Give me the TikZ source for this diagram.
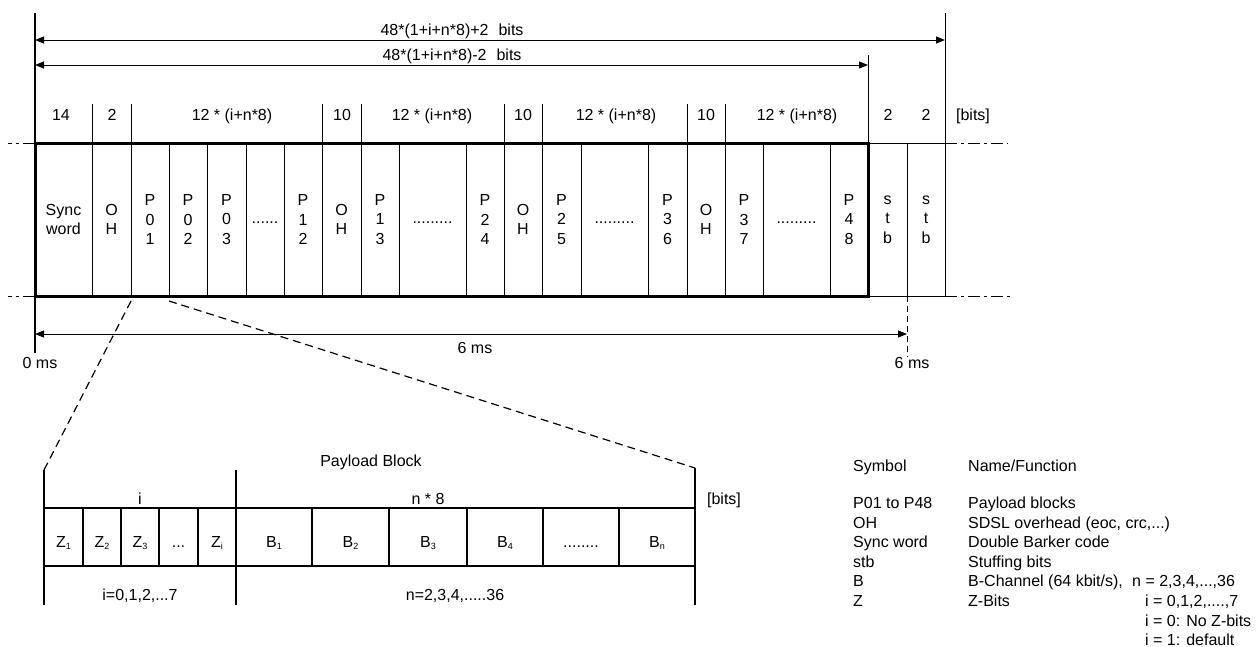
\documentclass[tikz,border=0pt]{standalone}
\usepackage{fontspec}
\setmainfont{Liberation Sans}
\usetikzlibrary{arrows.meta}

\newcommand{\lowidx}[1]{\raisebox{-2pt}{\fontsize{9}{10}\selectfont #1}}

\tikzset{
  cell/.style={draw, line width=1pt, minimum height=153pt, inner sep=0pt, outer sep=0pt, align=center},
  bcell/.style={draw, line width=2pt, minimum height=58pt, inner sep=0pt, outer sep=0pt, text height=20pt, text depth=0pt},
  dimarrow/.style={line width=1pt, {Triangle[length=9pt,width=7pt]}-{Triangle[length=9pt,width=7pt]}},
  axisline/.style={line width=1pt, dash pattern=on 12pt off 4pt on 3pt off 4pt},
  zoomline/.style={line width=1.2pt, dash pattern=on 8pt off 5pt},
  lbl/.style={anchor=base, inner sep=0pt},
  leg/.style={anchor=base west, inner sep=0pt},
}

\begin{document}
\begin{tikzpicture}[x=1pt, y=-1pt, font=\fontsize{16}{19.5}\selectfont]
  \useasboundingbox (0,0) rectangle (1257,646);

  % Frame cells
  \node[cell, minimum width=57pt] (sync) at (63.5,219.5) {Sync\\word};
  \node[cell, minimum width=39pt] (oh1) at (111.5,219.5) {O\\H};
  \node[cell, minimum width=38pt] (p01) at (150,219.5) {P\\0\\1};
  \node[cell, minimum width=38pt] (p02) at (188,219.5) {P\\0\\2};
  \node[cell, minimum width=39pt] (p03) at (226.5,219.5) {P\\0\\3};
  \node[cell, minimum width=38pt] (d1) at (265,219.5) {\strut......};
  \node[cell, minimum width=38pt] (p12) at (303,219.5) {P\\1\\2};
  \node[cell, minimum width=39pt] (oh2) at (341.5,219.5) {O\\H};
  \node[cell, minimum width=38pt] (p13) at (380,219.5) {P\\1\\3};
  \node[cell, minimum width=67pt] (d2) at (432.5,219.5) {\strut.........};
  \node[cell, minimum width=38pt] (p24) at (485,219.5) {P\\2\\4};
  \node[cell, minimum width=38pt] (oh3) at (523,219.5) {O\\H};
  \node[cell, minimum width=39pt] (p25) at (561.5,219.5) {P\\2\\5};
  \node[cell, minimum width=67pt] (d3) at (614.5,219.5) {\strut.........};
  \node[cell, minimum width=39pt] (p36) at (667.5,219.5) {P\\3\\6};
  \node[cell, minimum width=38pt] (oh4) at (706,219.5) {O\\H};
  \node[cell, minimum width=38pt] (p37) at (744,219.5) {P\\3\\7};
  \node[cell, minimum width=67pt] (d4) at (796.5,219.5) {\strut.........};
  \node[cell, minimum width=38pt] (p48) at (849,219.5) {P\\4\\8};
  \node[cell, minimum width=39pt] (stb1) at (887.5,219.5) {s\\t\\b};
  \node[cell, minimum width=38pt] (stb2) at (926,219.5) {s\\t\\b};

  % Thick frame
  \draw[line width=3pt] (sync.north west) rectangle (p48.south east);

  % Axis extensions
  \draw[axisline] (sync.north west) -- ++(-27,0);
  \draw[axisline] (sync.south west) -- ++(-27,0);
  \draw[axisline] (stb2.north east) -- ++(63,0);
  \draw[axisline] (stb2.south east) -- ++(68,0);

  % Limit lines
  \coordinate (top0) at (35,13);
  \coordinate (top1) at (945,13);
  \coordinate (top2) at (868,55);
  \coordinate (bot0) at (35,353);
  \coordinate (bot1) at (907,357);
  \draw[line width=1.8pt] (top0) -- (bot0);
  \draw[line width=1pt] (top1) -- (stb2.south east);
  \draw[line width=1pt] (top2) -- (p48.north east);
  \draw[line width=1pt, dash pattern=on 6pt off 4pt] (stb1.south east) -- (bot1);

  % Header dividers
  \draw[line width=1pt] (oh1.north west) -- ++(0,-39);
  \draw[line width=1pt] (oh1.north east) -- ++(0,-39);
  \draw[line width=1pt] (oh2.north west) -- ++(0,-39);
  \draw[line width=1pt] (oh2.north east) -- ++(0,-39);
  \draw[line width=1pt] (oh3.north west) -- ++(0,-39);
  \draw[line width=1pt] (oh3.north east) -- ++(0,-39);
  \draw[line width=1pt] (oh4.north west) -- ++(0,-39);
  \draw[line width=1pt] (oh4.north east) -- ++(0,-39);

  % Header bit counts
  \node[lbl] (h1) at (61,120) {14};
  \node[lbl] (h2) at (112,120) {2};
  \node[lbl] (h3) at (232,120) {12 * (i+n*8)};
  \node[lbl] (h4) at (342,120) {10};
  \node[lbl] (h5) at (432,120) {12 * (i+n*8)};
  \node[lbl] (h6) at (523,120) {10};
  \node[lbl] (h7) at (616,120) {12 * (i+n*8)};
  \node[lbl] (h8) at (706,120) {10};
  \node[lbl] (h9) at (797,120) {12 * (i+n*8)};
  \node[lbl] (h10) at (888,120) {2};
  \node[lbl] (h11) at (926,120) {2};
  \node[lbl] (h12) at (973,120) {[bits]};

  % Length arrows
  \coordinate (a1) at (35,40);
  \coordinate (a2) at (945,40);
  \coordinate (a3) at (35,65);
  \coordinate (a4) at (868,65);
  \coordinate (a5) at (35,334);
  \coordinate (a6) at (907,334);
  \draw[dimarrow] (a1) -- (a2);
  \draw[dimarrow] (a3) -- (a4);
  \draw[dimarrow] (a5) -- (a6);
  \node[lbl] (len1) at (452,35) {48*(1+i+n*8)+2\hspace{10pt}bits};
  \node[lbl] (len2) at (452,60.5) {48*(1+i+n*8)-2\hspace{10pt}bits};
  \node[lbl] (t6) at (475,353) {6 ms};
  \node[lbl] (t0) at (40,368) {0 ms};
  \node[lbl] (t6b) at (912,368) {6 ms};

  % Payload block
  \coordinate (pb0) at (44,470);
  \coordinate (pb1) at (236,470);
  \coordinate (pb2) at (695,468);
  \draw[zoomline] ([yshift=-5pt]p01.south west) -- (pb0);
  \draw[zoomline] ([yshift=-5pt]p02.south west) -- (pb2);

  \node[bcell, minimum width=39pt] (z1) at (63.5,537) {Z\lowidx{1}};
  \node[bcell, minimum width=38pt] (z2) at (102,537) {Z\lowidx{2}};
  \node[bcell, minimum width=38pt] (z3) at (140,537) {Z\lowidx{3}};
  \node[bcell, minimum width=39pt] (zd) at (178.5,537) {...};
  \node[bcell, minimum width=38pt] (zi) at (217,537) {Z\lowidx{i}};
  \node[bcell, minimum width=76pt] (b1) at (274,537) {B\lowidx{1}};
  \node[bcell, minimum width=77pt] (b2) at (350.5,537) {B\lowidx{2}};
  \node[bcell, minimum width=78pt] (b3) at (428,537) {B\lowidx{3}};
  \node[bcell, minimum width=76pt] (b4) at (505,537) {B\lowidx{4}};
  \node[bcell, minimum width=76pt] (bd) at (581,537) {........};
  \node[bcell, minimum width=76pt] (bn) at (657,537) {B\lowidx{n}};

  \draw[line width=2pt] (pb0) -- ++(0,135);
  \draw[line width=2pt] (pb1) -- ++(0,135);
  \draw[line width=2pt] (pb2) -- ++(0,137);

  \node[lbl] (pbt) at (371,466) {Payload Block};
  \node[lbl] (pbi) at (140,504) {i};
  \node[lbl] (pbn) at (428,504) {n * 8};
  \node[lbl] (pbb) at (724,504) {[bits]};
  \node[lbl] (pbir) at (140,600) {i=0,1,2,...7};
  \node[lbl] (pbnr) at (455,600) {n=2,3,4,.....36};

  % Legend
  \node[leg] (s0) at (853,471) {Symbol};
  \node[leg] (f0) at (968,471) {Name/Function};
  \node[leg] (s1) at (853,508) {P01 to P48};
  \node[leg] (f1) at (968,508) {Payload blocks};
  \node[leg] (s2) at (853,528) {OH};
  \node[leg] (f2) at (968,528) {SDSL overhead (eoc, crc,...)};
  \node[leg] (s3) at (853,547) {Sync word};
  \node[leg] (f3) at (968,547) {Double Barker code};
  \node[leg] (s4) at (853,567) {stb};
  \node[leg] (f4) at (968,567) {Stuffing bits};
  \node[leg] (s5) at (853,586) {B};
  \node[leg] (f5) at (968,586) {B-Channel (64 kbit/s),};
  \node[leg] (v5) at (1132,586) {n = 2,3,4,...,36};
  \node[leg] (s6) at (853,606) {Z};
  \node[leg] (f6) at (968,606) {Z-Bits};
  \node[leg] (v6) at (1145,606) {i = 0,1,2,....,7};
  \node[leg] (v7) at (1145,626) {i = 0:\hspace{6pt}No Z-bits};
  \node[leg] (v8) at (1145,645) {i = 1: default};
\end{tikzpicture}
\end{document}
